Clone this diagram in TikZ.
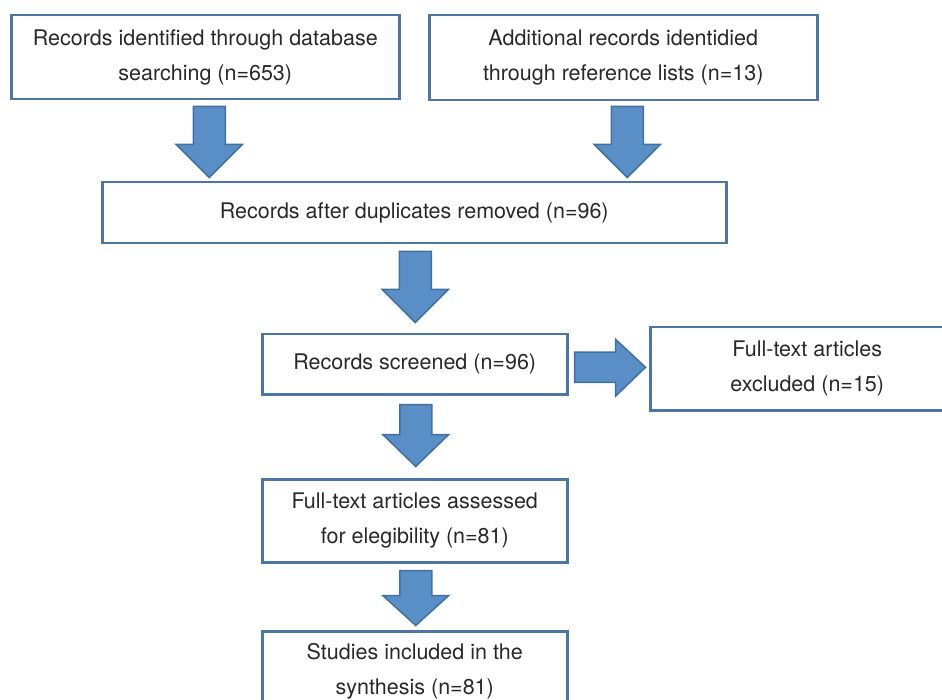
\documentclass[tikz,border=0pt]{standalone}
\usepackage{fontspec}
\setmainfont{TeX Gyre Heros}
\usepackage{xcolor}
\usepackage{tikz}
\usetikzlibrary{calc}

\definecolor{boxline}{RGB}{78,118,163}
\definecolor{arrowfill}{RGB}{90,142,198}
\definecolor{arrowline}{RGB}{66,112,156}
\definecolor{textgray}{RGB}{40,40,40}

\tikzset{
    flowbox/.style={rectangle, draw=boxline, line width=2.5pt, anchor=north west, align=center, inner sep=0pt, text=textgray, font=\fontsize{21.5}{35}\selectfont},
    blockarrow/.style={fill=arrowfill, draw=arrowline, line width=1.5pt, line join=miter}
}

%% block arrow pointing down: top centre, shaft length, head length
\newcommand{\downblock}[3]{%
    \draw [blockarrow] ($(#1)+(-16,0)$) -- ++(32,0) -- ++(0,#2) -- ++(17,0) -- ++(-33,#3) -- ++(-33,-#3) -- ++(17,0) -- cycle;
}

\begin{document}
\begin{tikzpicture}[x=1pt, y=-1pt]
        \useasboundingbox (0,0) rectangle (942,700);
        \clip (0,0) rectangle (942,700);

        %% Boxes
        \node (rec) [flowbox, minimum width=388pt, minimum height=84pt] at (10,14) {Records identified through database\\searching (n=653)};
        \node (add) [flowbox, minimum width=388pt, minimum height=85pt] at (428,14) {Additional records identidied\\through reference lists (n=13)};
        \node (dup) [flowbox, minimum width=624pt, minimum height=61pt] at (101,181) {Records after duplicates removed (n=96)};
        \node (scr) [flowbox, minimum width=305pt, minimum height=60pt] at (261,333) {Records screened (n=96)};
        \node (exc) [flowbox, minimum width=314pt, minimum height=83pt] at (649,326) {Full-text articles\\excluded (n=15)};
        \node (full) [flowbox, minimum width=305pt, minimum height=83pt] at (261,478) {Full-text articles assessed\\for elegibility (n=81)};
        \node (inc) [flowbox, minimum width=305pt, minimum height=80pt] at (261,630) {Studies included in the\\synthesis (n=81)};

        %% Arrow tops
        \coordinate (a1) at ($(rec.south) + (4,6)$);
        \coordinate (a2) at ($(add.south) + (4,5)$);
        \coordinate (a3) at ($(dup.south) + (1,7)$);
        \coordinate (a4) at ($(scr.south) + (1,9)$);
        \coordinate (a5) at ($(full.south) + (1,7)$);
        \coordinate (ra) at ($(scr.east) + (6,3)$);

        %% Arrows
        \downblock{a1}{38}{33}
        \downblock{a2}{38}{33}
        \downblock{a3}{38}{33}
        \downblock{a4}{30}{32}
        \downblock{a5}{25}{30}
        \draw [blockarrow] ($(ra) + (0,-15)$) -- ++(41,0) -- ++(0,-13) -- ++(30,28) -- ++(-30,29) -- ++(0,-14) -- ++(-41,0) -- cycle;

    \end{tikzpicture}
\end{document}
